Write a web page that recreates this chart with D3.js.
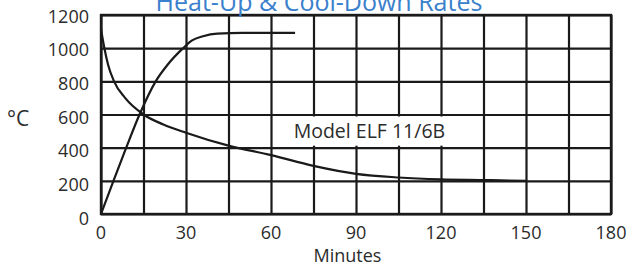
<!DOCTYPE html>
<html>
<head>
<meta charset="utf-8">
<script src="https://cdn.jsdelivr.net/npm/d3@7"></script>
<style>
  body { margin: 0; background: #fff; }
  text { font-family: "Open Sans", "Noto Sans", sans-serif; }
</style>
</head>
<body>
<svg id="chart" width="629" height="268"></svg>
<script>
// minutes / degrees C
var heatMinutes = [0, 4.4, 8.9, 13.6, 19.3, 23.5, 29, 32, 36, 41, 50, 68.5];
var heatTemps   = [0, 200, 400, 600, 800, 900, 1000, 1045, 1072, 1088, 1092, 1092];
var coolMinutes = [0, 1.2, 2.5, 4.6, 8.5, 15, 22, 30, 45, 60, 75, 90, 105, 120, 135, 150];
var coolTemps   = [1115, 1000, 900, 800, 700, 600, 540, 490, 412, 355, 290, 242, 220, 209, 205, 200];
var xTicks = [0, 30, 60, 90, 120, 150, 180];
var yTicks = [0, 200, 400, 600, 800, 1000, 1200];
var title = "Heat-Up & Cool-Down Rates";
var modelLabel = "Model ELF 11/6B";

var svg = d3.select("#chart"),
    margin = {top: 15, right: 18, bottom: 54, left: 101},
    width = +svg.attr("width") - margin.left - margin.right,
    height = +svg.attr("height") - margin.top - margin.bottom,
    g = svg.append("g").attr("transform", "translate(" + margin.left + "," + margin.top + ")");

var x = d3.scaleLinear().domain([0, 180]).range([0, width]);
var y = d3.scaleLinear().domain([0, 1200]).range([height, 0]);

// grid lines every 15 minutes and every 200 degrees
var xGrid = d3.axisBottom(x).tickValues(d3.range(0, 181, 15)).tickSize(-height).tickFormat("");
var yGrid = d3.axisLeft(y).tickValues(yTicks).tickSize(-width).tickFormat("");

g.append("g")
    .attr("transform", "translate(0," + height + ")")
    .call(xGrid)
    .call(function(s) {
      s.select(".domain").remove();
      s.selectAll(".tick line").attr("stroke", "#1a1a1a").attr("stroke-width", 2.2);
    });

g.append("g")
    .call(yGrid)
    .call(function(s) {
      s.select(".domain").remove();
      s.selectAll(".tick line").attr("stroke", "#1a1a1a").attr("stroke-width", 2.2);
    });

// white box behind the model label
g.append("rect")
    .attr("x", x(64))
    .attr("y", y(600) + 2)
    .attr("width", x(128) - x(64))
    .attr("height", y(400) - y(600) - 4)
    .attr("fill", "#fff");

g.append("text")
    .attr("x", x(68))
    .attr("y", y(500) + 6.5)
    .attr("font-size", 19.5)
    .attr("fill", "#2b2b2b")
    .text(modelLabel);

// border
g.append("rect")
    .attr("width", width)
    .attr("height", height)
    .attr("fill", "none")
    .attr("stroke", "#1a1a1a")
    .attr("stroke-width", 2.4);

var line = d3.line()
    .x(function(d) { return x(d[0]); })
    .y(function(d) { return y(d[1]); })
    .curve(d3.curveMonotoneX);

var heat = d3.zip(heatMinutes, heatTemps);
var cool = d3.zip(coolMinutes, coolTemps);

g.append("path")
    .datum(heat)
    .attr("fill", "none")
    .attr("stroke", "#1a1a1a")
    .attr("stroke-width", 2.2)
    .attr("d", line);

g.append("path")
    .datum(cool)
    .attr("fill", "none")
    .attr("stroke", "#1a1a1a")
    .attr("stroke-width", 2.2)
    .attr("d", line);

// tick labels
g.selectAll(".xlab")
    .data(xTicks)
  .enter().append("text")
    .attr("x", function(d) { return x(d); })
    .attr("y", height + 25)
    .attr("text-anchor", "middle")
    .attr("font-size", 18)
    .attr("fill", "#2b2b2b")
    .text(function(d) { return d; });

g.selectAll(".ylab")
    .data(yTicks)
  .enter().append("text")
    .attr("x", -12)
    .attr("y", function(d) { return y(d) + 7.5 + (1200 - d) / 1200 * 3; })
    .attr("text-anchor", "end")
    .attr("font-size", 18)
    .attr("fill", "#2b2b2b")
    .text(function(d) { return d; });

g.append("text")
    .attr("x", x(87))
    .attr("y", height + 48)
    .attr("text-anchor", "middle")
    .attr("font-size", 18)
    .attr("fill", "#2b2b2b")
    .text("Minutes");

svg.append("text")
    .attr("x", 7)
    .attr("y", 126)
    .attr("font-size", 21)
    .attr("fill", "#2b2b2b")
    .text("°C");

svg.append("text")
    .attr("x", 319)
    .attr("y", 11)
    .attr("text-anchor", "middle")
    .attr("font-size", 25)
    .attr("fill", "#3a80cc")
    .text(title);
</script>
</body>
</html>
